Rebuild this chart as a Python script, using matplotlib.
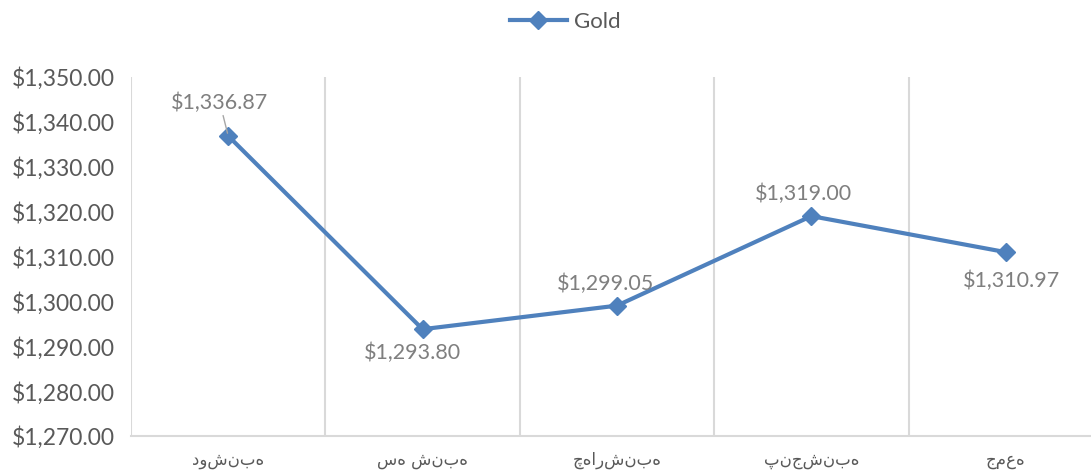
import numpy as np
import matplotlib

matplotlib.use("Agg")
import matplotlib.pyplot as plt
from matplotlib.ticker import FuncFormatter, FixedLocator

days = ["دوشنبه", "سه شنبه", "چهارشنبه", "پنجشنبه", "جمعه"]
gold = [1336.87, 1293.80, 1299.05, 1319.00, 1310.97]
y_ticks = [1270, 1280, 1290, 1300, 1310, 1320, 1330, 1340, 1350]

# label offsets in points (dx, dy) for each data label
label_offsets = [(-6, 24), (-7, -17), (-8, 16), (-6, 16), (4, -21)]

plt.rcParams["font.family"] = ["Lato", "DejaVu Sans"]

LINE = "#4F81BD"
GRID = "#D9D9D9"
TICK = "#595959"
LABEL = "#7F7F7F"

fig = plt.figure(figsize=(10.91, 4.72), dpi=100)
ax = fig.add_axes([131 / 1091, 36 / 472, 1 - 131 / 1091, 359 / 472])

x = np.arange(len(days))
ax.plot(x, gold, color=LINE, linewidth=3, marker="D", markersize=9.5,
        label="Gold", zorder=3)

for xi, v, (dx, dy) in zip(x, gold, label_offsets):
    txt = f"${v:,.2f}"
    arrow = None
    if xi == 0:
        # short leader line from the label down to the first point
        arrow = dict(arrowstyle="-", color="#A6A6A6", lw=1, shrinkA=0, shrinkB=2)
    ax.annotate(txt, (xi, v), xytext=(dx, dy), textcoords="offset points",
                ha="center", va="center", fontsize=15.5, color=LABEL,
                arrowprops=arrow)

ax.set_xlim(-0.5, 4.5 - 12 / 195)
ax.set_ylim(1270, 1350)
ax.set_yticks(y_ticks)
ax.yaxis.set_major_formatter(FuncFormatter(lambda v, _: f"${v:,.2f}"))
ax.set_xticks(x)
ax.set_xticklabels(days, fontsize=12, color=TICK, family="DejaVu Sans")
ax.xaxis.set_minor_locator(FixedLocator(np.arange(-0.5, 4.5, 1.0)))
ax.grid(False)
ax.grid(which="minor", axis="x", color=GRID, linewidth=1.5)
ax.tick_params(axis="y", length=0, labelsize=16.5, labelcolor=TICK, pad=12)
ax.tick_params(axis="x", which="both", length=0, pad=11)
for s in ["top", "right", "left"]:
    ax.spines[s].set_visible(False)
ax.spines["bottom"].set_color(GRID)
ax.spines["bottom"].set_linewidth(1.5)
ax.set_axisbelow(True)

fig.legend(*ax.get_legend_handles_labels(), loc="center", bbox_to_anchor=(0.518, 0.953),
           frameon=False, fontsize=16, labelcolor=TICK, handlelength=2.6,
           handletextpad=0.3)

fig.savefig("out.png", dpi=100)
